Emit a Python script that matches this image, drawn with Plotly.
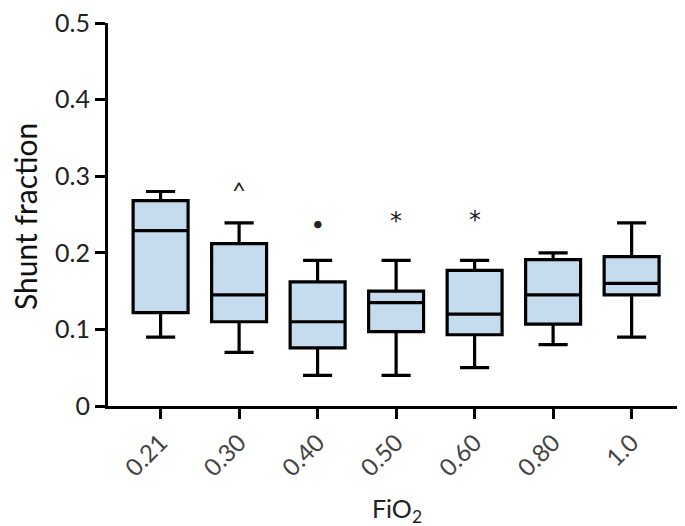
import plotly.graph_objects as go

categories = ["0.21", "0.30", "0.40", "0.50", "0.60", "0.80", "1.0"]
lower_whisker = [0.09, 0.07, 0.04, 0.04, 0.05, 0.08, 0.09]
q1_values = [0.122, 0.110, 0.076, 0.097, 0.093, 0.107, 0.145]
median_values = [0.229, 0.145, 0.110, 0.135, 0.120, 0.145, 0.160]
q3_values = [0.268, 0.212, 0.162, 0.150, 0.177, 0.191, 0.195]
upper_whisker = [0.280, 0.239, 0.190, 0.190, 0.190, 0.200, 0.239]

sig_categories = ["0.30", "0.40", "0.50", "0.60"]
sig_marks = ["^", "•", "*", "*"]
sig_y = [0.282, 0.239, 0.241, 0.243]

y_tickvals = [0, 0.1, 0.2, 0.3, 0.4, 0.5]
y_ticktext = ["0", "0.1", "0.2", "0.3", "0.4", "0.5"]

FONT = "Lato, 'Open Sans', sans-serif"
MARK_FONT = "'DejaVu Sans', sans-serif"

fig = go.Figure()
fig.add_trace(go.Box(
    x=categories,
    q1=q1_values,
    median=median_values,
    q3=q3_values,
    lowerfence=lower_whisker,
    upperfence=upper_whisker,
    fillcolor="#c5dcef",
    line=dict(color="black", width=3.2),
    width=0.7,
    whiskerwidth=0.53,
    boxpoints=False,
    showlegend=False,
    hoverinfo="skip",
))

annotations = []
for c, m, yv in zip(sig_categories, sig_marks, sig_y):
    annotations.append(dict(
        x=categories.index(c), y=yv, xref="x", yref="y", text=m, showarrow=False,
        xanchor="center", yanchor="middle",
        font=dict(family=MARK_FONT if m == "*" else FONT,
                  size=24 if m == "*" else (20 if m == "•" else 24), color="#222"),
    ))

annotations.append(dict(
    x=0.5, y=-0.271, xref="paper", yref="paper", text="FiO<sub>2</sub>",
    xanchor="center", yanchor="middle",
    showarrow=False, font=dict(family=FONT, size=25, color="#222"),
))
annotations.append(dict(
    x=-0.143, y=0.495, xref="paper", yref="paper", text="Shunt fraction",
    xanchor="center", yanchor="middle",
    textangle=-90, showarrow=False, font=dict(family=FONT, size=30, color="#111"),
))
fig.update_layout(annotations=annotations)

fig.update_layout(
    width=685, height=526,
    margin=dict(l=100, r=8, t=15, b=128, autoexpand=False),
    plot_bgcolor="white", paper_bgcolor="white",
    font=dict(family=FONT, color="#222"),
    xaxis=dict(
        type="category", categoryorder="array", categoryarray=categories,
        range=[-0.67, 6.68],
        showline=True, linecolor="black", linewidth=3.2,
        ticks="outside", ticklen=10, tickwidth=3.2, tickcolor="black",
        tickangle=-45, tickfont=dict(family=FONT, size=24, color="#444"),
        showgrid=False, zeroline=False, automargin=False,
    ),
    yaxis=dict(
        range=[0, 0.5], tickvals=y_tickvals, ticktext=y_ticktext,
        showline=True, linecolor="black", linewidth=3.2,
        ticks="outside", ticklen=10, tickwidth=3.2, tickcolor="black",
        tickfont=dict(family=FONT, size=25, color="#222"),
        ticklabeloverflow="allow",
        showgrid=False, zeroline=False, automargin=False,
    ),
)

fig.write_html("out.html")
